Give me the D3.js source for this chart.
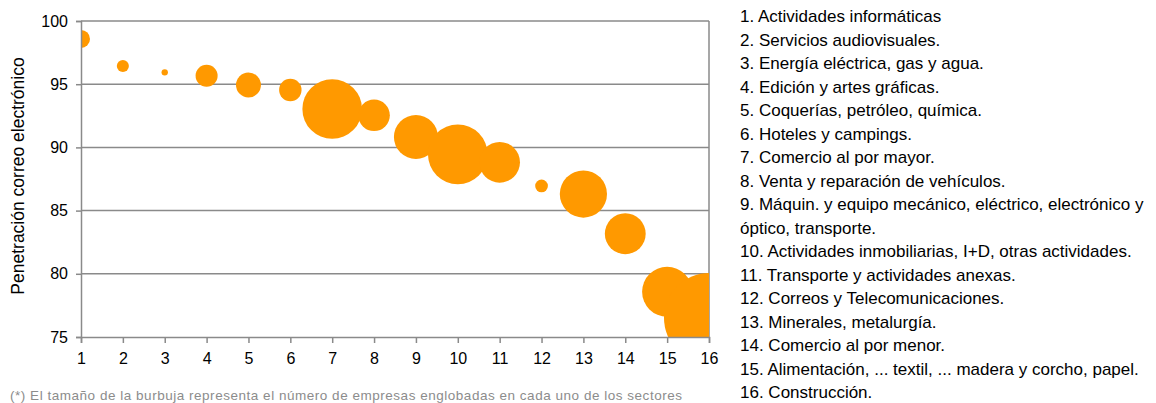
<!DOCTYPE html>
<html><head><meta charset="utf-8">
<script src="https://cdn.jsdelivr.net/npm/d3@7"></script>
<style>
body{margin:0;background:#fff}
svg{display:block;font-family:"Liberation Sans",Arial,sans-serif}
</style>
</head><body>
<svg id="chart" width="1156" height="403"></svg>
<script>
// ---- data ----
const sectors = [1,2,3,4,5,6,7,8,9,10,11,12,13,14,15,16];
const penetration = [98.58,96.44,95.94,95.67,94.94,94.54,93.04,92.54,90.82,89.45,88.82,86.95,86.31,83.17,78.58,76.5];
const companies = [4.0,1.8,0.5,6.0,7.7,6.2,43.9,12.3,23.9,43.9,20.4,2.0,27.5,20.6,30.9,100];
const yTicks = [75,80,85,90,95,100];
const xTicks = [1,2,3,4,5,6,7,8,9,10,11,12,13,14,15,16];
const legendLines = [
  "1. Actividades informáticas",
  "2. Servicios audiovisuales.",
  "3. Energía eléctrica, gas y agua.",
  "4. Edición y artes gráficas.",
  "5. Coquerías, petróleo, química.",
  "6. Hoteles y campings.",
  "7. Comercio al por mayor.",
  "8. Venta y reparación de vehículos.",
  "9. Máquin. y equipo mecánico, eléctrico, electrónico y",
  "óptico, transporte.",
  "10. Actividades inmobiliarias, I+D, otras actividades.",
  "11. Transporte y actividades anexas.",
  "12. Correos y Telecomunicaciones.",
  "13. Minerales, metalurgía.",
  "14. Comercio al por menor.",
  "15. Alimentación, ... textil, ... madera y corcho, papel.",
  "16. Construcción."
];
const yTitle = "Penetración correo electrónico";
const footnote = "(*) El tamaño de la burbuja representa el número de empresas englobadas en cada uno de los sectores";

// ---- layout ----
const L = 81, R = 709, T = 21, B = 337;
const grid = "#8a8a8a";
const svg = d3.select("#chart");

const x = d3.scaleLinear().domain([1,16]).range([L,R]);
const y = d3.scaleLinear().domain([75,100]).range([B,T]);
const r = d3.scaleSqrt().domain([0,100]).range([0,45]);

// gridlines
svg.append("g").selectAll("line").data(yTicks.filter(d=>d>75)).join("line")
  .attr("x1",L).attr("x2",R).attr("y1",d=>y(d)).attr("y2",d=>y(d))
  .attr("stroke",grid).attr("stroke-width",1.5);
// right border
svg.append("line").attr("x1",R).attr("x2",R).attr("y1",T).attr("y2",B)
  .attr("stroke",grid).attr("stroke-width",1.5);

// clip
svg.append("clipPath").attr("id","plotclip").append("rect")
  .attr("x",L).attr("y",T).attr("width",R-L).attr("height",B-T);

// bubbles
const data = sectors.map((s,i)=>({s, v:penetration[i], n:companies[i]}));
svg.append("g").attr("clip-path","url(#plotclip)")
  .selectAll("circle").data(data).join("circle")
  .attr("cx",d=>x(d.s)).attr("cy",d=>y(d.v)).attr("r",d=>r(d.n))
  .attr("fill","#ff9900");

// axes
const yAxis = svg.append("g").attr("transform",`translate(${L},0)`)
  .call(d3.axisLeft(y).tickValues(yTicks).tickSize(5).tickPadding(8));
const xAxis = svg.append("g").attr("transform",`translate(0,${B})`)
  .call(d3.axisBottom(x).tickValues(xTicks).tickSize(6).tickPadding(10));
[yAxis,xAxis].forEach(g=>{
  g.select(".domain").attr("stroke",grid).attr("stroke-width",1.5);
  g.selectAll(".tick line").attr("stroke",grid).attr("stroke-width",1.5);
  g.selectAll(".tick text").attr("fill","#000").attr("font-size",16)
   .attr("font-family","'Liberation Sans',Arial,sans-serif");
});

// y title
svg.append("text").attr("transform",`translate(24,176) rotate(-90)`)
  .attr("text-anchor","middle").attr("font-size",17.5).attr("fill","#000").text(yTitle);

// footnote
svg.append("text").attr("x",10).attr("y",400).attr("font-size",13.5)
  .attr("textLength",672).attr("lengthAdjust","spacing")
  .attr("fill","#8c8c8c").text(footnote);

// legend
svg.append("g").selectAll("text").data(legendLines).join("text")
  .attr("x",740).attr("y",(d,i)=>22 + i*23.5)
  .attr("font-size",17).attr("fill","#000").text(d=>d);
</script>
</body></html>
